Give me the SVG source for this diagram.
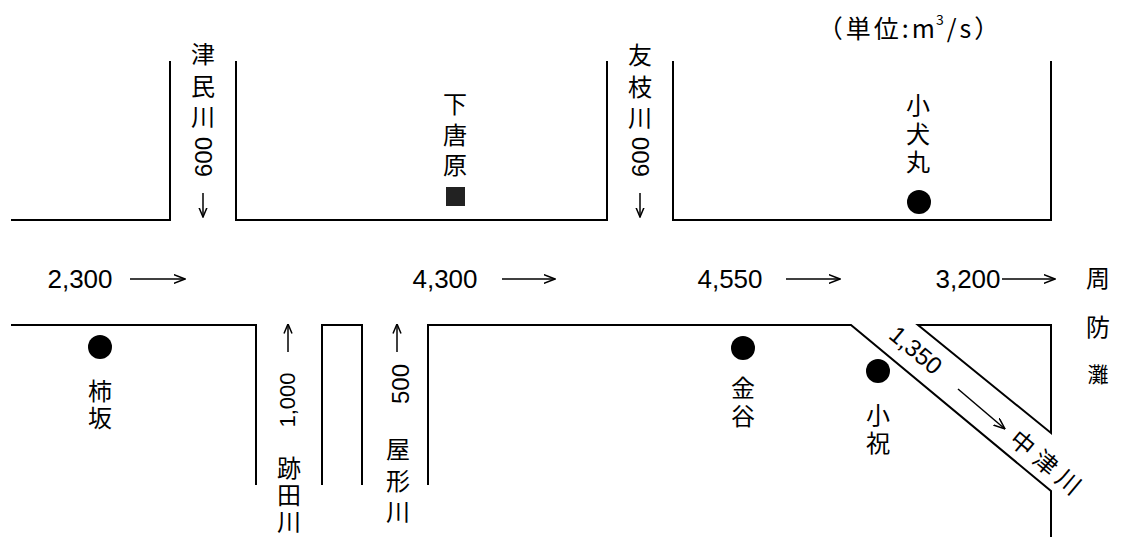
<svg xmlns="http://www.w3.org/2000/svg" width="1122" height="539" viewBox="0 0 1122 539">
<style>
.ln{fill:none;stroke:#000;stroke-width:2}
.ar{fill:none;stroke:#000;stroke-width:1.5}
.jp{font-family:"Noto Sans CJK JP","Noto Sans CJK SC",sans-serif;font-size:24px;fill:#000;text-anchor:middle;dominant-baseline:central}
.v{font-family:"Noto Sans CJK JP","Noto Sans CJK SC",sans-serif;font-size:24px;fill:#000;writing-mode:vertical-rl;text-anchor:start}
.num{font-family:"Liberation Sans",Arial,sans-serif;font-size:24px;fill:#000;text-anchor:middle;dominant-baseline:central}
.flow{font-size:26px}
.dot{fill:#000}
</style>
<defs>
<marker id="hd" viewBox="0 0 12 10" markerWidth="12" markerHeight="10" refX="11.5" refY="5" orient="auto" markerUnits="userSpaceOnUse">
<path d="M0,0.5 L11.5,5 L0,9.5" fill="none" stroke="#000" stroke-width="1.5"/>
</marker>
<marker id="hs" viewBox="0 0 10 10" markerWidth="10" markerHeight="10" refX="9.5" refY="5" orient="auto" markerUnits="userSpaceOnUse">
<path d="M0,1 L9.5,5 L0,9" fill="none" stroke="#000" stroke-width="1.5"/>
</marker>
</defs>
<rect width="1122" height="539" fill="#fff"/>

<g id="banks">
<polyline class="ln" points="11,220 170,220 170,61"/>
<polyline class="ln" points="236,61 236,220 607,220 607,61"/>
<polyline class="ln" points="673,61 673,220 1051,220 1051,61"/>
<polyline class="ln" points="11,325 256,325 256,485"/>
<polyline class="ln" points="322,485 322,325 362,325 362,485"/>
<polyline class="ln" points="428,485 428,325 851,325 1051,491 1051,537"/>
<polygon class="ln" points="918,325 1051,325 1051,433"/>
</g>

<g id="connectors">
<line class="ar" x1="130" y1="279" x2="185" y2="279" marker-end="url(#hd)"/>
<line class="ar" x1="502" y1="279" x2="555" y2="279" marker-end="url(#hd)"/>
<line class="ar" x1="786" y1="279" x2="840" y2="279" marker-end="url(#hd)"/>
<line class="ar" x1="1002" y1="279" x2="1055" y2="279" marker-end="url(#hd)"/>
<line class="ar" x1="203" y1="193" x2="203" y2="217" marker-end="url(#hs)"/>
<line class="ar" x1="640" y1="193" x2="640" y2="217" marker-end="url(#hs)"/>
<line class="ar" x1="288" y1="352" x2="288" y2="324" marker-end="url(#hs)"/>
<line class="ar" x1="397" y1="352" x2="397" y2="324" marker-end="url(#hs)"/>
<line class="ar" x1="958" y1="389" x2="1005" y2="429" marker-end="url(#hd)"/>
</g>

<g id="unit"><text class="jp" x="910" y="27" style="font-size:25px" letter-spacing="3">（単位:m<tspan style="font-size:14px" dx="-2" dy="-8">3</tspan><tspan dy="8">/s）</tspan></text></g>

<g id="flow-2300"><text class="num flow" x="80" y="279">2,300</text></g>
<g id="flow-4300"><text class="num flow" x="445" y="279">4,300</text></g>
<g id="flow-4550"><text class="num flow" x="730" y="279">4,550</text></g>
<g id="flow-3200"><text class="num flow" x="968" y="279">3,200</text></g>

<g id="tsutami">
<text class="v" x="203" y="42" letter-spacing="7.5">津民川</text>
<text class="num" transform="translate(203,157) rotate(-90)">600</text>
</g>

<g id="tomoeda">
<text class="v" x="640" y="43" letter-spacing="7.5">友枝川</text>
<text class="num" transform="translate(640,157) rotate(-90)">600</text>
</g>

<g id="shimokarabaru">
<text class="v" x="455" y="92" letter-spacing="6.5">下唐原</text>
<rect x="446" y="187" width="19" height="19" fill="#222"/>
</g>

<g id="koinumaru">
<text class="v" x="918" y="93" letter-spacing="4.5">小犬丸</text>
<circle class="dot" cx="919" cy="202" r="12"/>
</g>

<g id="kakisaka">
<circle class="dot" cx="100" cy="347" r="12"/>
<text class="v" x="100" y="379" letter-spacing="3">柿坂</text>
</g>

<g id="kanaya">
<circle class="dot" cx="743" cy="348" r="12"/>
<text class="v" x="743" y="376" letter-spacing="4">金谷</text>
</g>

<g id="kojuku">
<circle class="dot" cx="878" cy="371" r="12"/>
<text class="v" x="878" y="403" letter-spacing="4">小祝</text>
</g>

<g id="atoda">
<text class="num" style="font-size:22px" transform="translate(287,400) rotate(-90)">1,000</text>
<text class="v" x="289" y="456" letter-spacing="3">跡田川</text>
</g>

<g id="yakata">
<text class="num" transform="translate(400,384) rotate(-90)">500</text>
<text class="v" x="398" y="437" letter-spacing="7.5">屋形川</text>
</g>

<g id="nakatsu">
<text class="num" transform="translate(916,350) rotate(40)">1,350</text>
<text class="jp" transform="translate(1049,463) rotate(40)" letter-spacing="6">中津川</text>
</g>

<g id="suounada">
<text class="jp"><tspan x="1098" y="276">周</tspan><tspan x="1098" y="325">防</tspan><tspan x="1098" y="373" style="font-size:21px">灘</tspan></text>
</g>
</svg>
